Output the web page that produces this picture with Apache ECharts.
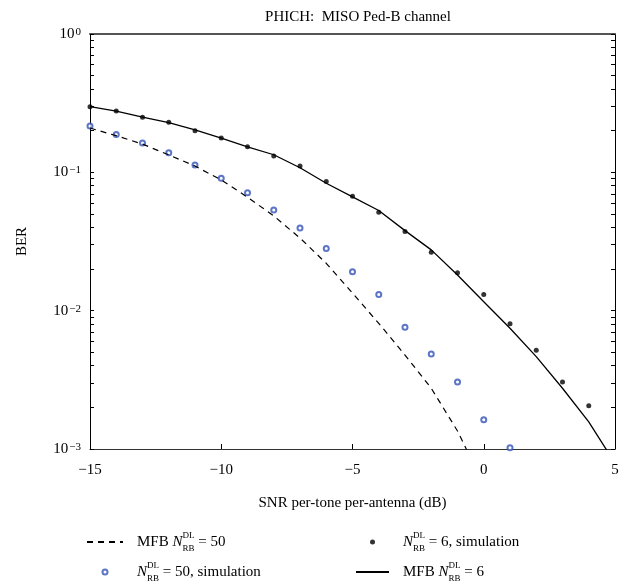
<!DOCTYPE html>
<html>
<head>
<meta charset="utf-8">
<script src="https://cdn.jsdelivr.net/npm/echarts@6/dist/echarts.min.js"></script>
<style>
  html, body { margin: 0; padding: 0; background: #fff; }
  #chart { width: 639px; height: 588px; }
</style>
</head>
<body>
<div id="chart"></div>
<script>
// MFB (theory) curves
const snrMfb50 = [-15, -14, -13, -12, -11, -10, -9, -8, -7, -6, -5, -4, -3, -2, -1, 0];
const berMfb50 = [0.209, 0.184, 0.160, 0.1336, 0.111, 0.0881, 0.0661, 0.0484, 0.0335, 0.0220, 0.0134, 0.0081, 0.00478, 0.00275, 0.00135, 0.00055];
const snrMfb6 = [-15, -14, -13, -12, -11, -10, -9, -8, -7, -6, -5, -4, -3, -2, -1, 0, 1, 2, 3, 4, 5];
const berMfb6 = [0.298, 0.277, 0.251, 0.229, 0.203, 0.177, 0.153, 0.134, 0.108, 0.0834, 0.0665, 0.0530, 0.0379, 0.0275, 0.0181, 0.0116, 0.00746, 0.00465, 0.00275, 0.00157, 0.00079];

// simulation points
const snrSim50 = [-15, -14, -13, -12, -11, -10, -9, -8, -7, -6, -5, -4, -3, -2, -1, 0, 1];
const berSim50 = [0.2165, 0.1875, 0.163, 0.1387, 0.1132, 0.0906, 0.0713, 0.0535, 0.0396, 0.0281, 0.0191, 0.0131, 0.0076, 0.00486, 0.00305, 0.00163, 0.00102];
const snrSim6 = [-15, -14, -13, -12, -11, -10, -9, -8, -7, -6, -5, -4, -3, -2, -1, 0, 1, 2, 3, 4];
const berSim6 = [0.298, 0.277, 0.250, 0.230, 0.200, 0.177, 0.153, 0.131, 0.111, 0.0857, 0.0672, 0.0515, 0.0373, 0.0264, 0.0188, 0.0131, 0.00805, 0.00517, 0.00305, 0.00205];

// axis ticks
const xTicks = [-15, -10, -5, 0, 5];
const yMajor = [0.001, 0.01, 0.1, 1];
const yTickAll = [];
yMajor.forEach(function (d, i) {
  yTickAll.push(d);
  if (i < yMajor.length - 1) {
    for (let k = 2; k <= 9; k++) yTickAll.push(+(d * k).toPrecision(3));
  }
});

const FONT = 'Liberation Serif';
const pair = (xs, ys) => xs.map((x, i) => [x, ys[i]]);
const minus = v => String(v).replace('-', '\u2212');

const legendRich = {
  i: { fontFamily: FONT, fontSize: 15, fontStyle: 'italic', lineHeight: 22, color: '#000' },
  sup: { fontFamily: FONT, fontSize: 9, lineHeight: 9, verticalAlign: 'top', width: 0, color: '#000' },
  sub: { fontFamily: FONT, fontSize: 9, lineHeight: 9, verticalAlign: 'bottom', color: '#000' }
};
const legendNames = {
  'MFB 50': 'MFB {i|N}{sup|DL}{sub|RB} = 50',
  'Sim 50': '{i|N}{sup|DL}{sub|RB} = 50, simulation',
  'Sim 6': '{i|N}{sup|DL}{sub|RB} = 6, simulation',
  'MFB 6': 'MFB {i|N}{sup|DL}{sub|RB} = 6'
};
const legendText = {
  fontFamily: FONT, fontSize: 15, color: '#000', lineHeight: 22,
  padding: [0, 0, 0, 9], rich: legendRich
};
// line items: hide the marker that echarts puts in the middle of the icon
const noDot = { opacity: 0, color: 'rgba(0,0,0,0)', borderWidth: 0 };

const chart = echarts.init(document.getElementById('chart'), null, { renderer: 'canvas' });

const option = {
  backgroundColor: '#fff',
  animation: false,
  title: {
    text: 'PHICH:  MISO Ped-B channel',
    left: 353, top: 5, textAlign: 'center',
    textStyle: { fontFamily: FONT, fontSize: 15, fontWeight: 'normal', color: '#000' }
  },
  grid: { left: 90, right: 24, top: 34, bottom: 139 },
  legend: [
    {
      left: 86, top: 531, height: 100, orient: 'vertical',
      itemWidth: 36, itemHeight: 5, itemGap: 8, padding: 0,
      data: [{ name: 'MFB 50', itemStyle: noDot }, 'Sim 50'],
      formatter: n => legendNames[n],
      textStyle: legendText
    },
    {
      left: 355, top: 531, height: 100, orient: 'vertical',
      itemWidth: 33, itemHeight: 5, itemGap: 8, padding: 0,
      data: ['Sim 6', { name: 'MFB 6', itemStyle: noDot }],
      formatter: n => legendNames[n],
      textStyle: legendText
    }
  ],
  xAxis: [
    {
      type: 'value', min: -15, max: 5, interval: 5,
      name: 'SNR per-tone per-antenna (dB)',
      nameLocation: 'middle', nameGap: 47,
      nameTextStyle: { fontFamily: FONT, fontSize: 15, color: '#000' },
      axisLine: { onZero: false, lineStyle: { color: '#333', width: 1.2 } },
      axisTick: { inside: true, length: 5, lineStyle: { color: '#000' } },
      axisLabel: {
        margin: 14, fontFamily: FONT, fontSize: 15, color: '#000',
        customValues: xTicks, formatter: v => minus(v)
      },
      splitLine: { show: false }
    },
    {
      type: 'value', position: 'top', min: -15, max: 5, interval: 5,
      axisLine: { onZero: false, lineStyle: { color: '#555', width: 2 } },
      axisTick: { show: false },
      axisLabel: { show: false },
      splitLine: { show: false }
    }
  ],
  yAxis: [
    {
      type: 'log', logBase: 10, min: 0.001, max: 1,
      name: 'BER', nameLocation: 'middle', nameGap: 60,
      nameTextStyle: { fontFamily: FONT, fontSize: 15, color: '#000' },
      axisLine: { show: true, onZero: false, lineStyle: { color: '#000', width: 1 } },
      axisTick: { inside: true, length: 4, customValues: yTickAll, lineStyle: { color: '#000' } },
      axisLabel: {
        margin: 9, fontFamily: FONT, fontSize: 15, color: '#000',
        customValues: yMajor,
        formatter: v => '10{sup|' + minus(Math.round(Math.log10(v))) + '}',
        rich: {
          sup: { fontFamily: FONT, fontSize: 11, lineHeight: 11, verticalAlign: 'top', padding: [0, 0, 8, 1], color: '#000' }
        }
      },
      splitLine: { show: false }
    },
    {
      type: 'log', logBase: 10, min: 0.001, max: 1, position: 'right',
      axisLine: { show: true, onZero: false, lineStyle: { color: '#000', width: 1 } },
      axisTick: { inside: true, length: 4, customValues: yTickAll, lineStyle: { color: '#000' } },
      axisLabel: { show: false },
      splitLine: { show: false }
    }
  ],
  series: [
    {
      name: 'MFB 50', type: 'line', symbol: 'none',
      data: pair(snrMfb50, berMfb50),
      lineStyle: { color: '#000', width: 1.2, type: [6, 5] },
      itemStyle: { color: '#000' }
    },
    {
      name: 'MFB 6', type: 'line', symbol: 'none',
      data: pair(snrMfb6, berMfb6),
      lineStyle: { color: '#000', width: 1.3 },
      itemStyle: { color: '#000' }
    },
    {
      name: 'Sim 50', type: 'scatter', symbol: 'emptyCircle', symbolSize: 5,
      data: pair(snrSim50, berSim50),
      itemStyle: { color: '#3352b8', borderColor: '#3352b8', borderWidth: 1.3 }
    },
    {
      name: 'Sim 6', type: 'scatter', symbol: 'circle', symbolSize: 5,
      data: pair(snrSim6, berSim6),
      itemStyle: { color: '#000' }
    }
  ]
};

chart.setOption(option);
</script>
</body>
</html>
